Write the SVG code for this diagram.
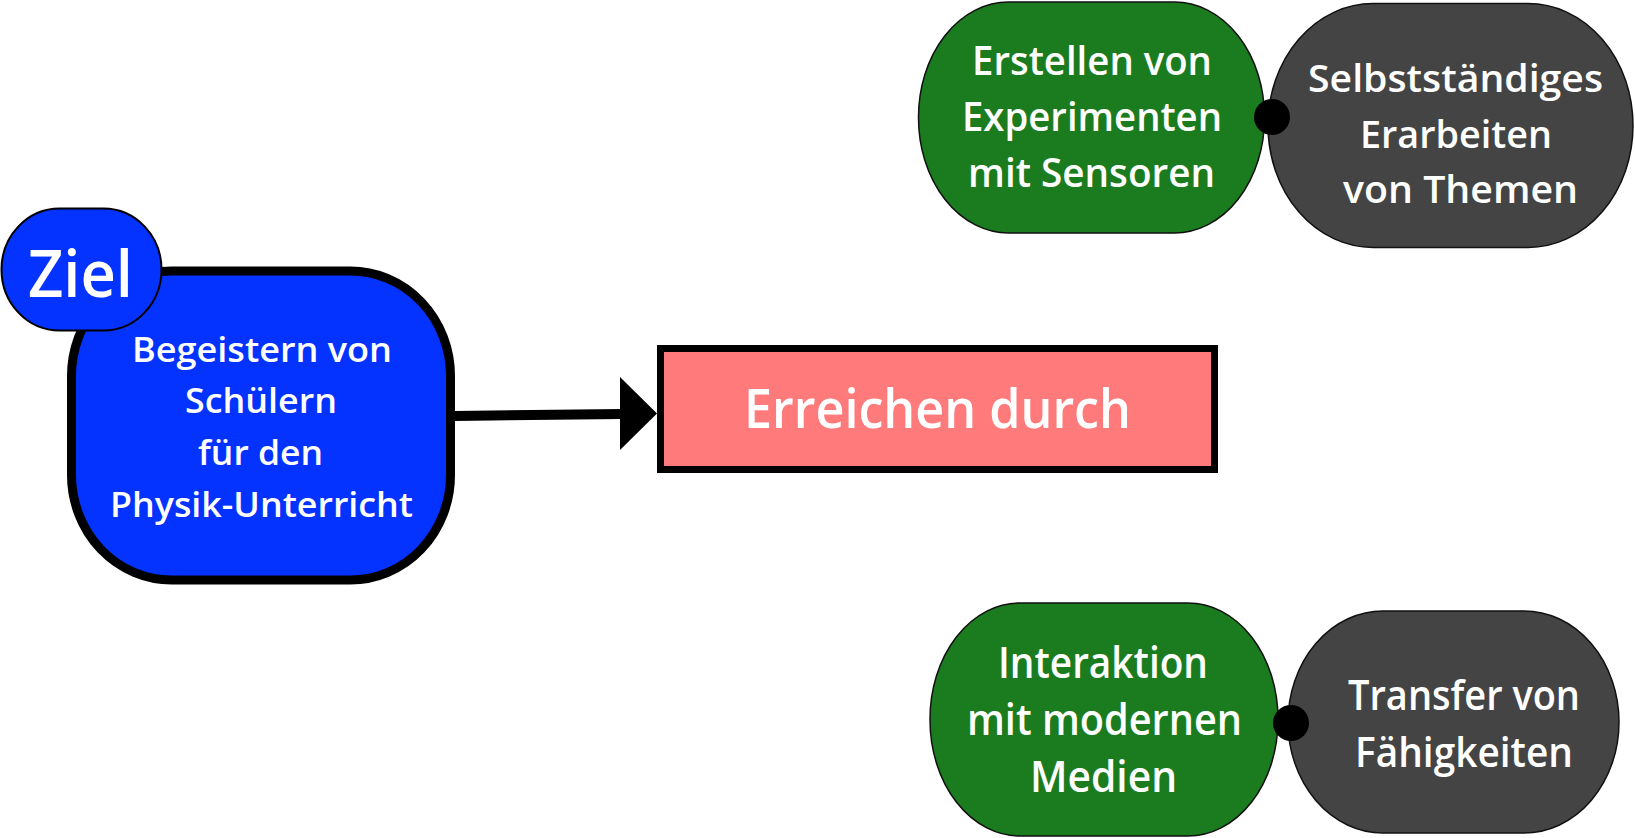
<svg xmlns="http://www.w3.org/2000/svg" width="1635" height="838" viewBox="0 0 1635 838">
<style>
.t{font-family:"Open Sans","Noto Sans","Liberation Sans",sans-serif;font-weight:600;fill:#ffffff;text-anchor:middle}
.green{fill:#1b7b1f;stroke:#111;stroke-width:1.5}
.dark{fill:#444444;stroke:#111;stroke-width:1.5}
.dot{fill:#000}
</style>
<rect width="1635" height="838" fill="#ffffff"/>
<g id="node-main">
<rect x="71.5" y="271" width="379" height="309" rx="100" ry="105" fill="#0433ff" stroke="#000" stroke-width="9"/>
<text class="t" font-size="35" x="262" y="362" textLength="260" lengthAdjust="spacingAndGlyphs">Begeistern von</text>
<text class="t" font-size="35" x="261" y="413" textLength="152" lengthAdjust="spacingAndGlyphs">Schülern</text>
<text class="t" font-size="35" x="260.5" y="465" textLength="125" lengthAdjust="spacingAndGlyphs">für den</text>
<text class="t" font-size="35" x="261.5" y="517" textLength="303" lengthAdjust="spacingAndGlyphs">Physik-Unterricht</text>
</g>
<g id="node-ziel">
<rect x="1.5" y="208.5" width="160" height="122" rx="58" ry="61" fill="#0433ff" stroke="#000" stroke-width="2"/>
<text class="t" font-size="66" x="80.5" y="297" textLength="105" lengthAdjust="spacingAndGlyphs">Ziel</text>
</g>
<g id="node-erreichen">
<rect x="660.5" y="348.5" width="554" height="121" fill="#ff7b7b" stroke="#000" stroke-width="7"/>
<text class="t" font-size="54" x="937.5" y="428" textLength="387" lengthAdjust="spacingAndGlyphs">Erreichen durch</text>
</g>
<g id="node-experimente">
<rect class="green" x="918.5" y="2" width="346" height="231" rx="90" ry="115"/>
<text class="t" font-size="39" x="1092" y="75" textLength="240" lengthAdjust="spacingAndGlyphs">Erstellen von</text>
<text class="t" font-size="39" x="1092" y="131" textLength="260" lengthAdjust="spacingAndGlyphs">Experimenten</text>
<text class="t" font-size="39" x="1091.5" y="187" textLength="247" lengthAdjust="spacingAndGlyphs">mit Sensoren</text>
</g>
<g id="node-selbststaendig">
<rect class="dark" x="1268" y="3.5" width="365" height="244" rx="105" ry="122"/>
<text class="t" font-size="38" x="1455.5" y="92" textLength="295" lengthAdjust="spacingAndGlyphs">Selbstständiges</text>
<text class="t" font-size="38" x="1456" y="148" textLength="192" lengthAdjust="spacingAndGlyphs">Erarbeiten</text>
<text class="t" font-size="38" x="1460.5" y="203" textLength="235" lengthAdjust="spacingAndGlyphs">von Themen</text>
</g>
<g id="node-interaktion">
<rect class="green" x="930" y="603" width="348" height="233" rx="90" ry="116"/>
<text class="t" font-size="43" x="1103" y="678" textLength="210" lengthAdjust="spacingAndGlyphs">Interaktion</text>
<text class="t" font-size="43" x="1104.5" y="735" textLength="275" lengthAdjust="spacingAndGlyphs">mit modernen</text>
<text class="t" font-size="43" x="1103.5" y="792" textLength="147" lengthAdjust="spacingAndGlyphs">Medien</text>
</g>
<g id="node-transfer">
<rect class="dark" x="1288" y="611" width="331" height="222" rx="95" ry="111"/>
<text class="t" font-size="42" x="1464" y="710" textLength="232" lengthAdjust="spacingAndGlyphs">Transfer von</text>
<text class="t" font-size="42" x="1464" y="767" textLength="218" lengthAdjust="spacingAndGlyphs">Fähigkeiten</text>
</g>
<g id="connectors">
<line x1="455" y1="416" x2="622" y2="414" stroke="#000" stroke-width="10"/>
<polygon points="620,377 657,413.5 620,450" fill="#000"/>
<circle class="dot" cx="1272" cy="117" r="18"/>
<circle class="dot" cx="1291" cy="723" r="18"/>
</g>
</svg>
